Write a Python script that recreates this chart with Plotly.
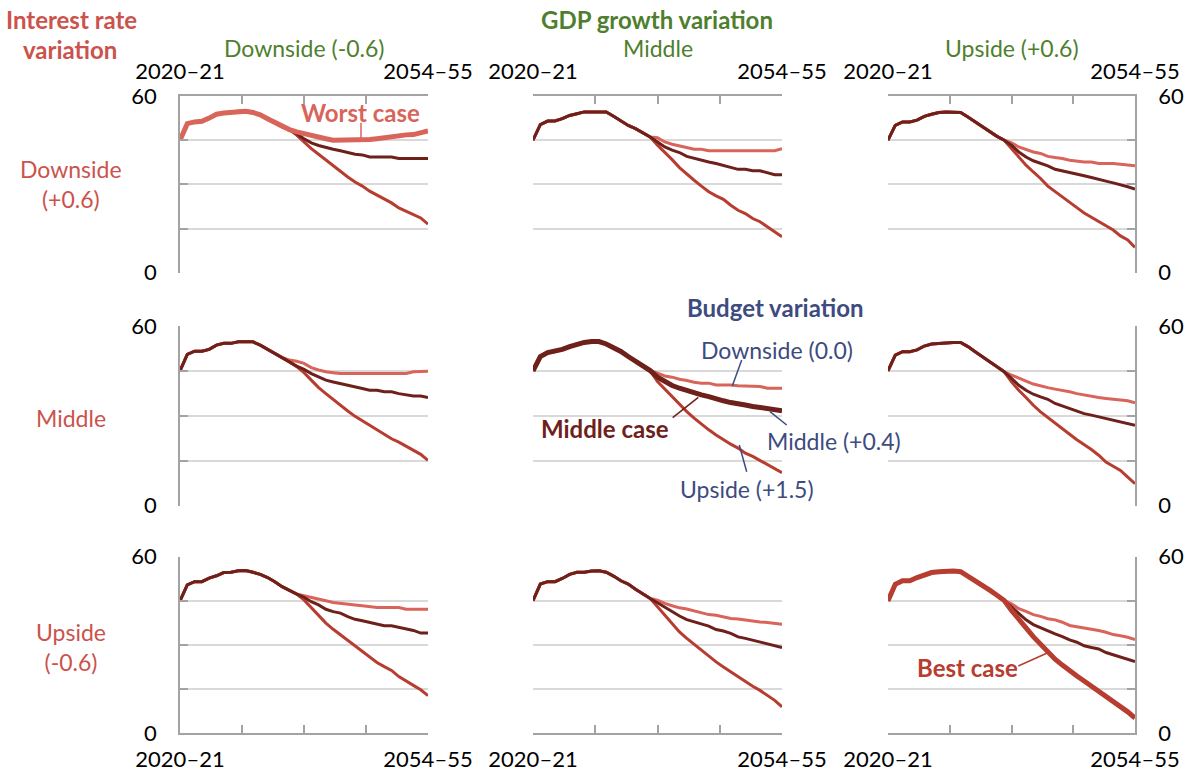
import plotly.graph_objects as go

# ---------------- data ----------------
YEARS = [f"{y}\u2013{str(y + 1)[2:]}" for y in range(2020, 2055)]

ROW_LABELS = ["Downside<br>(+0.6)", "Middle", "Upside<br>(-0.6)"]
COL_LABELS = ["Downside (-0.6)", "Middle", "Upside (+0.6)"]
BUDGET_SERIES = ["Downside (0.0)", "Middle (+0.4)", "Upside (+1.5)"]

# Row 1: interest rate downside
TL_DOWN = [45, 50.6, 51.2, 51.4, 52.5, 53.8, 54.2, 54.5, 54.8, 54.8, 54.4, 53.6, 52.3, 51, 49.5, 48.6, 47.8, 47.2, 46.3, 46.1, 45.5, 45, 45, 45, 45, 45, 45.2, 45.5, 45.9, 46.1, 46.4, 46.8, 46.9, 47.5, 48.1]
TL_MID = [45, 50.6, 51.2, 51.4, 52.5, 53.8, 54.2, 54.5, 54.8, 54.8, 54.4, 53.6, 52.3, 51, 49.5, 48.6, 47.2, 45.5, 44.1, 43.2, 42.5, 41.9, 41.4, 40.7, 40.2, 40, 39.3, 39.3, 39.3, 39.3, 38.8, 38.8, 38.8, 38.8, 38.8]
TL_UP = [45, 50.6, 51.2, 51.4, 52.5, 53.8, 54.2, 54.5, 54.8, 54.8, 54.4, 53.6, 52.3, 51, 49.5, 48.6, 46.7, 44.4, 42.1, 40.2, 38.2, 36.2, 34.2, 32.5, 30.8, 29.4, 27.7, 26.3, 24.9, 23.7, 22, 20.9, 19.8, 18.6, 16.5]

TM_DOWN = [45, 50.3, 51.5, 51.5, 52.3, 53.4, 54, 54.6, 54.6, 54.6, 54.6, 53.1, 51.5, 50, 48.9, 47.6, 46.1, 45.8, 44.4, 43.6, 43, 42.4, 41.9, 41.9, 41.4, 41.4, 41.4, 41.4, 41.4, 41.4, 41.4, 41.4, 41.4, 41.4, 42.1]
TM_MID = [45, 50.3, 51.5, 51.5, 52.3, 53.4, 54, 54.6, 54.6, 54.6, 54.6, 53.1, 51.5, 50, 48.9, 47.6, 46.1, 44.4, 42.7, 41.6, 40.8, 39.5, 38.8, 38.2, 37.6, 37.1, 36.5, 35.9, 35.1, 35.1, 34.6, 34.6, 34, 33.3, 33.3]
TM_UP = [45, 50.3, 51.5, 51.5, 52.3, 53.4, 54, 54.6, 54.6, 54.6, 54.6, 53.1, 51.5, 50, 48.9, 47.6, 46.1, 43.3, 41, 38.4, 35.7, 33.4, 31.4, 29.4, 27.5, 26.1, 24.9, 22.9, 21.2, 20.1, 18.4, 17.3, 15.6, 14.2, 12.2]

TR_DOWN = [45, 50, 51.2, 51.2, 51.8, 53.1, 53.8, 54.4, 54.6, 54.6, 54.4, 52.9, 51.2, 49.5, 47.8, 46.3, 45, 44.1, 42.7, 41.9, 41, 40.5, 39.5, 39.1, 38.8, 38.2, 37.9, 37.6, 37.6, 37.1, 37.1, 37.1, 36.8, 36.5, 36.3]
TR_MID = [45, 50, 51.2, 51.2, 51.8, 53.1, 53.8, 54.4, 54.6, 54.6, 54.4, 52.9, 51.2, 49.5, 47.8, 46.3, 45, 43.3, 41, 39.3, 38, 37.1, 36.3, 35.1, 34.6, 34, 33.4, 32.9, 32.3, 31.6, 31.1, 30.5, 29.9, 29.2, 28.4]
TR_UP = [45, 50, 51.2, 51.2, 51.8, 53.1, 53.8, 54.4, 54.6, 54.6, 54.4, 52.9, 51.2, 49.5, 47.8, 46.3, 45, 42.1, 39.3, 36.5, 34.2, 32, 29.4, 27.5, 25.8, 23.8, 22.1, 20.3, 18.8, 17.6, 15.9, 14.5, 12.5, 11.1, 8.6]

# Row 2: interest rate middle
ML_DOWN = [45, 50.5, 51.6, 51.6, 52.2, 53.6, 54.2, 54.2, 54.7, 54.7, 54.7, 53.6, 52.2, 50.8, 49.5, 48.6, 48.2, 47.5, 46.1, 45.3, 44.7, 44.4, 44.1, 44.1, 44.1, 44.1, 44.1, 44.1, 44.1, 44.1, 44.1, 44.1, 44.7, 44.9, 44.9]
ML_MID = [45, 50.5, 51.6, 51.6, 52.2, 53.6, 54.2, 54.2, 54.7, 54.7, 54.7, 53.6, 52.2, 50.8, 49.5, 48, 46.6, 45.5, 44.1, 43, 41.9, 41.3, 40.8, 40.2, 39.7, 39.1, 38.5, 38.5, 38, 38, 37.4, 36.9, 36.6, 36.6, 36.1]
ML_UP = [45, 50.5, 51.6, 51.6, 52.2, 53.6, 54.2, 54.2, 54.7, 54.7, 54.7, 53.6, 52.2, 50.8, 49.5, 48, 46.4, 44.4, 41.9, 39.4, 37.4, 35.4, 33.5, 31.6, 29.8, 28.3, 26.8, 25.4, 24, 22.3, 21.2, 19.8, 18.4, 17.1, 15.1]

MM_DOWN = [45, 49.8, 51.1, 51.5, 52.2, 53.1, 54, 54.5, 54.8, 54.8, 54, 52.9, 51.5, 49.8, 48.3, 46.7, 45.1, 44.2, 43.3, 42.9, 42.2, 41.8, 41.2, 40.9, 40.9, 40.3, 40.3, 40.3, 40, 40, 39.8, 39.8, 39.2, 39.2, 39.2]
MM_MID = [45, 49.8, 51.1, 51.5, 52.2, 53.1, 54, 54.5, 54.8, 54.8, 54, 52.9, 51.5, 49.8, 48.3, 46.7, 45.1, 42.9, 41.4, 40.1, 39.2, 38.4, 37.5, 37, 36.4, 35.9, 35, 34.4, 34.2, 33.6, 33.1, 32.7, 32.2, 31.7, 31.7]
MM_UP = [45, 49.8, 51.1, 51.5, 52.2, 53.1, 54, 54.5, 54.8, 54.8, 54, 52.9, 51.5, 49.8, 48.3, 46.7, 45.1, 41.4, 38.9, 36.2, 33.6, 31.4, 29.2, 27.2, 25.3, 23.6, 22, 20.5, 19.2, 17.5, 16.4, 15, 13.6, 12.4, 11]

MR_DOWN = [45, 50.3, 51.4, 51.4, 52, 53.3, 54, 54.2, 54.5, 54.5, 54.5, 53.1, 51.4, 49.7, 48, 46.4, 44.7, 43.6, 42.5, 41.6, 40.6, 39.9, 39.4, 38.9, 38.5, 38, 37.4, 36.9, 36.5, 36.1, 35.8, 35.5, 35.2, 35, 34.3]
MR_MID = [45, 50.3, 51.4, 51.4, 52, 53.3, 54, 54.2, 54.5, 54.5, 54.5, 53.1, 51.4, 49.7, 48, 46.4, 44.7, 42.5, 40.2, 38.5, 37.2, 36.3, 35.5, 34.1, 33.3, 32.4, 31.5, 30.7, 30.2, 29.6, 29, 28.5, 27.9, 27.4, 26.8]
MR_UP = [45, 50.3, 51.4, 51.4, 52, 53.3, 54, 54.2, 54.5, 54.5, 54.5, 53.1, 51.4, 49.7, 48, 46.4, 44.7, 41.3, 38.5, 36.1, 33.5, 31.3, 29.4, 27.4, 25.4, 23.8, 22, 20.4, 18.7, 16.8, 14.5, 13.1, 11.7, 9.5, 7.3]

# Row 3: interest rate upside
BL_DOWN = [45, 50.4, 51.5, 51.5, 52.7, 53.5, 54.6, 54.7, 55.2, 55.3, 54.7, 54, 52.9, 51.5, 49.8, 48.5, 47.3, 46.7, 46.2, 45.5, 45, 44.4, 44.2, 43.9, 43.6, 43.3, 43, 42.7, 42.7, 42.7, 42.7, 42.1, 42.1, 42.1, 42.1]
BL_MID = [45, 50.4, 51.5, 51.5, 52.7, 53.5, 54.6, 54.7, 55.2, 55.3, 54.7, 54, 52.9, 51.5, 49.8, 48.5, 47.3, 46.2, 44.7, 43.6, 42.1, 41.3, 40.8, 39.6, 38.7, 38.2, 37.6, 37.1, 36.5, 36.5, 36, 35.4, 34.9, 34, 34]
BL_UP = [45, 50.4, 51.5, 51.5, 52.7, 53.5, 54.6, 54.7, 55.2, 55.3, 54.7, 54, 52.9, 51.5, 49.8, 48.5, 47.3, 45.3, 42.7, 40.2, 37.4, 35.3, 33.4, 31.5, 29.4, 27.5, 25.8, 24, 22.6, 21.3, 19.2, 17.6, 16.2, 14.7, 12.7]

BM_DOWN = [45, 50.7, 51.5, 51.5, 52.6, 54, 54.7, 54.7, 55.1, 55.2, 54.7, 53.4, 51.8, 50.7, 48.9, 47.2, 45.8, 45.2, 44.1, 43.3, 42.6, 42.2, 41.6, 41, 40.3, 40.1, 39.5, 39, 38.8, 38.4, 38.2, 37.8, 37.6, 37.3, 37]
BM_MID = [45, 50.7, 51.5, 51.5, 52.6, 54, 54.7, 54.7, 55.1, 55.2, 54.7, 53.4, 51.8, 50.7, 48.9, 47.2, 45.8, 44.3, 42.7, 41.3, 39.8, 38.6, 37.8, 37, 36.4, 35.2, 34.7, 33.9, 32.7, 32.2, 31.6, 31, 30.5, 29.7, 29.1]
BM_UP = [45, 50.7, 51.5, 51.5, 52.6, 54, 54.7, 54.7, 55.1, 55.2, 54.7, 53.4, 51.8, 50.7, 48.9, 47.2, 45.8, 43, 40.1, 37.3, 34.4, 32.2, 30.2, 28.2, 26.1, 24.2, 22.5, 20.8, 19.1, 17.4, 15.9, 14.5, 12.8, 11.1, 8.9]

BR_DOWN = [45, 50.6, 51.8, 51.8, 52.9, 53.9, 54.6, 54.9, 55.1, 55.1, 54.9, 53.4, 52, 50.3, 48.6, 46.9, 45.1, 44, 42.3, 41.4, 40.3, 39.7, 38.9, 38.5, 37.7, 36.6, 36.2, 35.8, 35.4, 34.9, 34.3, 33.5, 33.1, 32.6, 31.8]
BR_MID = [45, 50.6, 51.8, 51.8, 52.9, 53.9, 54.6, 54.9, 55.1, 55.1, 54.9, 53.4, 52, 50.3, 48.6, 46.9, 45.1, 42.9, 40.6, 38.5, 36.9, 35.8, 34.9, 33.7, 32.8, 31.7, 30.9, 29.7, 29.1, 28.6, 27.4, 26.6, 25.9, 25.1, 24.3]
BR_UP = [45, 50.6, 51.8, 51.8, 52.9, 53.9, 54.6, 54.9, 55.1, 55.1, 54.9, 53.4, 52, 50.3, 48.6, 46.9, 45.1, 41.7, 38.5, 35.8, 32.8, 30.1, 27.4, 25.1, 23.1, 21.1, 19.4, 17.7, 16, 14.3, 12.6, 10.9, 8.8, 7.2, 5.1]

PANELS = [
    [(TL_DOWN, TL_MID, TL_UP), (TM_DOWN, TM_MID, TM_UP), (TR_DOWN, TR_MID, TR_UP)],
    [(ML_DOWN, ML_MID, ML_UP), (MM_DOWN, MM_MID, MM_UP), (MR_DOWN, MR_MID, MR_UP)],
    [(BL_DOWN, BL_MID, BL_UP), (BM_DOWN, BM_MID, BM_UP), (BR_DOWN, BR_MID, BR_UP)],
]
# which series is emphasised in a panel (worst / middle / best case)
HIGHLIGHT = {(0, 0): 0, (1, 1): 1, (2, 2): 2}

# ---------------- style ----------------
W, H = 1186, 772
FONT = "Lato"
LIGHT = "#D9645A"
DARK = "#6E201B"
MED = "#B73D30"
SERIES_COLORS = [LIGHT, DARK, MED]
GREEN = "#4F7F2E"
NAVY = "#3D4B80"
RED_T = "#CB534C"
AXC = "#A3A3A3"
GRID = "#D9D9D9"
FS = 22     # tick labels
FL = 23     # regular labels
FB = 24     # bold labels

XD = [(180, 428), (533, 782), (888, 1135)]
YD = [(96, 272.7), (326, 505.5), (556.7, 733)]

fig = go.Figure()
X = list(range(len(YEARS)))
XTV = [0, 8.5, 17, 25.5, 34]
XTT = [YEARS[0], "", "", "", YEARS[-1]]

layout = dict(
    width=W, height=H, autosize=False,
    margin=dict(l=0, r=0, t=0, b=0, pad=0),
    paper_bgcolor="white", plot_bgcolor="white",
    showlegend=False,
    font=dict(family=FONT, size=FS, color="#000000"),
)

for r in range(3):
    for c in range(3):
        k = r * 3 + c + 1
        xs = "" if k == 1 else str(k)
        hl = HIGHLIGHT.get((r, c))
        order = [0, 2, 1]
        if hl is not None:
            order = [i for i in order if i != hl] + [hl]
        for i in order:
            fig.add_trace(go.Scatter(
                x=X, y=PANELS[r][c][i], mode="lines",
                name=BUDGET_SERIES[i],
                line=dict(color=SERIES_COLORS[i], width=5 if hl == i else 3),
                xaxis="x" + xs, yaxis="y" + xs, hoverinfo="skip",
            ))
        xa = dict(domain=[XD[c][0] / W, XD[c][1] / W], anchor="y" + xs,
                  range=[0, len(YEARS) - 1], showgrid=False, zeroline=False,
                  fixedrange=True, automargin=False)
        if r == 1:
            xa.update(showline=False, ticks="", showticklabels=False)
        else:
            xa.update(side="top" if r == 0 else "bottom", showline=True,
                      linecolor=AXC, linewidth=1.5, ticks="inside", ticklen=8,
                      tickwidth=1.5, tickcolor=AXC, tickmode="array",
                      tickvals=XTV, ticktext=XTT, showticklabels=True,
                      tickfont=dict(family=FONT, size=FS, color="#000"),
                      ticklabelstandoff=6)
        ya = dict(domain=[1 - YD[r][1] / H, 1 - YD[r][0] / H], anchor="x" + xs,
                  range=[0, 60], showgrid=False, zeroline=False, fixedrange=True,
                  automargin=False)
        if c == 1:
            ya.update(showline=False, ticks="", showticklabels=False,
                      minor=dict(tickmode="array", tickvals=[15, 30, 45],
                                 showgrid=True, gridcolor=GRID, gridwidth=1.5,
                                 ticks=""))
        else:
            ya.update(side="left" if c == 0 else "right", showline=True,
                      linecolor=AXC, linewidth=1.5, ticks="inside", ticklen=8,
                      tickwidth=1.5, tickcolor=AXC, tickmode="array",
                      tickvals=[0, 60], ticktext=["0", "60"],
                      tickfont=dict(family=FONT, size=FS, color="#000"),
                      ticklabelstandoff=17,
                      minor=dict(tickmode="array", tickvals=[15, 30, 45],
                                 showgrid=True, gridcolor=GRID, gridwidth=1.5,
                                 ticks="inside", ticklen=8, tickwidth=1.5,
                                 tickcolor=AXC))
        layout["xaxis" + xs] = xa
        layout["yaxis" + xs] = ya

fig.update_layout(**layout)


def ann(text, px, py, color, bold=False, size=FL):
    fig.add_annotation(
        text=f"<b>{text}</b>" if bold else text,
        x=px / W, y=1 - py / H, xref="paper", yref="paper",
        xanchor="center", yanchor="middle", showarrow=False,
        font=dict(family=FONT, size=size, color=color))


def leader(x0, y0, x1, y1, color):
    fig.add_shape(type="line", xref="paper", yref="paper",
                  x0=x0 / W, y0=1 - y0 / H, x1=x1 / W, y1=1 - y1 / H,
                  line=dict(color=color, width=1.5))


# headers
ann("Interest rate", 71, 20, RED_T, bold=True, size=FB)
ann("variation", 70, 49, RED_T, bold=True, size=FB)
ann("GDP growth variation", 657, 20, GREEN, bold=True, size=FB)
for c, lab in enumerate(COL_LABELS):
    ann(lab, (XD[c][0] + XD[c][1]) / 2, 48, GREEN)
for r, lab in enumerate(ROW_LABELS):
    ann(lab, 71, [184, 418, 647][r], RED_T)

# in-chart labels
ann("Worst case", 360, 113, LIGHT, bold=True, size=FB)
leader(361, 122.7, 361, 140, LIGHT)
ann("Budget variation", 775, 307, NAVY, bold=True, size=FB)
ann(BUDGET_SERIES[0], 777, 350, NAVY)
leader(741.7, 360, 732.3, 386, NAVY)
ann("Middle case", 605, 428, DARK, bold=True, size=FB)
leader(672.7, 417.7, 698.3, 397.3, DARK)
ann(BUDGET_SERIES[1], 834, 441, NAVY)
leader(786.7, 425, 770, 411.7, NAVY)
ann(BUDGET_SERIES[2], 747, 489, NAVY)
leader(746.7, 471.7, 739.3, 445, NAVY)
ann("Best case", 967, 667, MED, bold=True, size=FB)
leader(1018.3, 666, 1046.7, 653.3, MED)

fig.write_html(
    "out.html",
    config={"displayModeBar": False, "staticPlot": False},
    post_script="document.body.style.margin='0';document.body.style.padding='0';"
                "document.documentElement.style.overflow='hidden';",
)
